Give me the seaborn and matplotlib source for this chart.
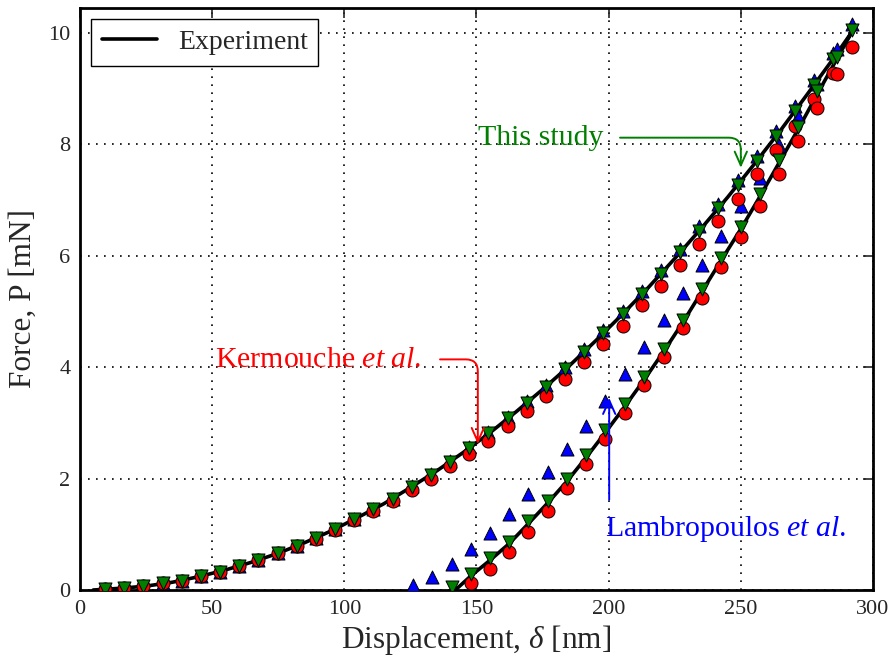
import numpy as np
import pandas as pd
import matplotlib
matplotlib.use("Agg")
import matplotlib.pyplot as plt
import seaborn as sns

# Displacement (nm) where the model markers sit on the loading branch
load_h = [9.5, 16.8, 24.0, 31.3, 38.5, 45.8, 53.0, 60.3, 67.5, 74.8,
          82.0, 89.3, 96.5, 103.8, 111.0, 118.3, 125.5, 132.8, 140.0, 147.3,
          154.5, 161.8, 169.0, 176.3, 183.5, 190.8, 198.0, 205.3, 212.5, 219.8,
          227.0, 234.3, 241.5, 248.8, 256.0, 263.3, 270.5, 277.8, 285.0, 292.2]

# Force (mN) on loading
study_load = [0.01, 0.03, 0.07, 0.12, 0.17, 0.25, 0.33, 0.43, 0.54, 0.66,
              0.79, 0.94, 1.09, 1.27, 1.45, 1.64, 1.85, 2.07, 2.30, 2.55,
              2.81, 3.08, 3.36, 3.65, 3.96, 4.28, 4.61, 4.95, 5.31, 5.68,
              6.06, 6.45, 6.85, 7.27, 7.70, 8.15, 8.60, 9.07, 9.54, 10.05]
kerm_load = [0.01, 0.03, 0.07, 0.12, 0.17, 0.25, 0.33, 0.43, 0.54, 0.66,
             0.79, 0.92, 1.07, 1.25, 1.42, 1.60, 1.79, 2.00, 2.22, 2.45,
             2.68, 2.94, 3.21, 3.49, 3.79, 4.09, 4.41, 4.74, 5.11, 5.46,
             5.83, 6.21, 6.62, 7.02, 7.46, 7.89, 8.33, 8.81, 9.28, 9.75]
lamb_load = [0.01, 0.03, 0.07, 0.12, 0.17, 0.25, 0.33, 0.43, 0.54, 0.66,
             0.79, 0.94, 1.09, 1.27, 1.45, 1.64, 1.86, 2.08, 2.31, 2.57,
             2.83, 3.10, 3.39, 3.68, 4.00, 4.32, 4.66, 5.00, 5.37, 5.74,
             6.13, 6.53, 6.93, 7.36, 7.79, 8.24, 8.69, 9.16, 9.64, 10.16]

# Unloading branch displacements (nm)
unload_h = [286.3, 279.0, 271.8, 264.6, 257.3, 250.0, 242.6, 235.3, 228.0, 220.8,
            213.5, 206.2, 198.8, 191.5, 184.2, 176.9, 169.6, 162.3, 155.0, 147.8,
            140.6, 133.3, 125.9]
study_unload = [9.57, 8.95, 8.32, 7.72, 7.11, 6.52, 5.96, 5.40, 4.84, 4.32,
                3.82, 3.34, 2.87, 2.42, 1.99, 1.60, 1.23, 0.87, 0.57, 0.29,
                0.06]
kerm_unload = [9.26, 8.66, 8.06, 7.47, 6.90, 6.33, 5.79, 5.24, 4.70, 4.19,
               3.68, 3.18, 2.71, 2.26, 1.83, 1.42, 1.05, 0.69, 0.38, 0.12]
lamb_unload = [9.72, 9.08, 8.51, 7.99, 7.39, 6.89, 6.36, 5.83, 5.34, 4.85,
               4.36, 3.87, 3.40, 2.95, 2.53, 2.12, 1.72, 1.36, 1.03, 0.73,
               0.47, 0.24, 0.09]

# Experimental curve (loading then unloading)
exp_load_h = [5, 15, 25, 35, 45, 55, 65, 75, 85, 95, 105, 115, 125, 135, 145,
              155, 165, 175, 185, 195, 205, 215, 225, 235, 245, 255, 265, 275, 285, 292.2]
exp_load_P = [0.0, 0.03, 0.07, 0.14, 0.24, 0.36, 0.50, 0.66, 0.85, 1.06, 1.30, 1.55,
              1.84, 2.14, 2.47, 2.82, 3.20, 3.60, 4.02, 4.47, 4.94, 5.43, 5.95, 6.49,
              7.05, 7.64, 8.25, 8.89, 9.54, 10.03]
exp_unload_h = [292.2, 286.3, 279.0, 271.8, 264.6, 257.3, 250.0, 242.6, 235.3, 228.0,
                220.8, 213.5, 206.2, 198.8, 191.5, 184.2, 176.9, 169.6, 162.3, 155.0,
                147.8, 142.0]
exp_unload_P = [10.03, 9.53, 8.91, 8.28, 7.68, 7.07, 6.48, 5.92, 5.36, 4.80,
                4.28, 3.78, 3.30, 2.83, 2.38, 1.95, 1.56, 1.19, 0.83, 0.53,
                0.25, 0.0]

sns.set_style("white")
plt.rcParams["font.family"] = ["Liberation Serif", "DejaVu Serif"]
plt.rcParams["mathtext.fontset"] = "custom"
plt.rcParams["mathtext.rm"] = "Liberation Serif"
plt.rcParams["mathtext.it"] = "Liberation Serif:italic"

exp_df = pd.DataFrame({"h": exp_load_h + exp_unload_h, "P": exp_load_P + exp_unload_P})
study_df = pd.DataFrame({"h": load_h + unload_h[:len(study_unload)],
                         "P": study_load + study_unload})
kerm_df = pd.DataFrame({"h": load_h + unload_h[:len(kerm_unload)],
                        "P": kerm_load + kerm_unload})
lamb_df = pd.DataFrame({"h": load_h + unload_h[:len(lamb_unload)],
                        "P": lamb_load + lamb_unload})

fig = plt.figure(figsize=(8.95, 6.63), dpi=100)
ax = fig.add_axes([0.0894, 0.1101, 0.886, 0.878])

sns.lineplot(data=exp_df, x="h", y="P", sort=False, estimator=None,
             color="black", linewidth=2.6, label="Experiment", ax=ax, zorder=2)

mk = dict(s=88, edgecolor="black", linewidth=0.7, legend=False, ax=ax, zorder=3)
sns.scatterplot(data=lamb_df, x="h", y="P", marker="^", color="#0000ff", **mk)
sns.scatterplot(data=kerm_df, x="h", y="P", marker="o", color="#ff0000", **mk)
sns.scatterplot(data=study_df, x="h", y="P", marker="v", color="#007f00", **mk)

ax.set_xlim(0, 300)
ax.set_ylim(0, 10.45)
ax.set_xticks([0, 50, 100, 150, 200, 250, 300])
ax.set_yticks([0, 2, 4, 6, 8, 10])
ax.grid(True, color="black", linestyle=(0, (1, 3.8)), linewidth=1.2)
ax.tick_params(direction="in", top=True, right=True, length=7, width=1.2,
               labelsize=16, pad=7)
for sp in ax.spines.values():
    sp.set_linewidth(2)
    sp.set_color("black")

ax.set_xlabel(r"Displacement, $\delta$ [nm]", fontsize=22.5, labelpad=3)
ax.set_ylabel("Force, P [mN]", fontsize=22.5, labelpad=7)

leg = ax.legend(loc="upper left", fontsize=20, fancybox=False, framealpha=1,
                edgecolor="black", handlelength=2.0, handletextpad=0.75,
                borderaxespad=0.4, borderpad=0.38)
leg.get_frame().set_linewidth(1.0)

# annotations
arrow_head = "->,head_length=0.45,head_width=0.2"
ax.text(150.6, 7.99, "This study", color="#007f00", fontsize=21.5)
ax.annotate("", xy=(250.0, 7.58), xytext=(204.3, 8.12),
            arrowprops=dict(arrowstyle=arrow_head, color="#007f00", lw=1.4,
                            connectionstyle="angle,angleA=0,angleB=90,rad=12",
                            shrinkA=0, shrinkB=0, mutation_scale=22))
ax.text(51.1, 4.0, r"Kermouche $\mathit{et\ al.}$", color="#ff0000", fontsize=21.5)
ax.annotate("", xy=(150.5, 2.62), xytext=(136.2, 4.14),
            arrowprops=dict(arrowstyle=arrow_head, color="#ff0000", lw=1.4,
                            connectionstyle="angle,angleA=0,angleB=90,rad=12",
                            shrinkA=0, shrinkB=0, mutation_scale=22))
ax.text(198.6, 0.97, r"Lambropoulos $\mathit{et\ al.}$", color="#0000ff", fontsize=21.5)
ax.annotate("", xy=(200.2, 3.45), xytext=(200.2, 1.62),
            arrowprops=dict(arrowstyle=arrow_head, color="#0000ff", lw=1.4,
                            shrinkA=0, shrinkB=0, mutation_scale=22))

fig.savefig("out.png", dpi=100)
